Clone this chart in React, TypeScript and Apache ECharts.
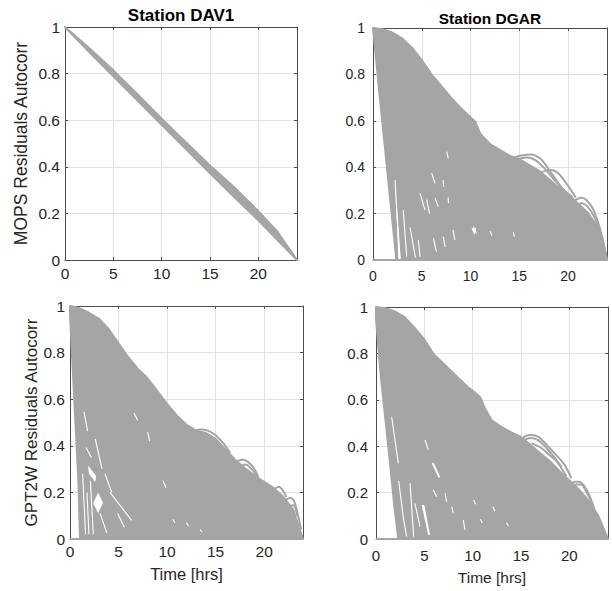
import React, { useEffect, useRef } from "react";
import * as echarts from "echarts";

type Pt = [number, number];

// ---------- axis ticks ----------
const xTicks = [0, 5, 10, 15, 20];
const xMax = 24;
const yTicks = [0, 0.2, 0.4, 0.6, 0.8, 1];

// ---------- Panel 1: MOPS, station DAV1 (band of near-linear curves) ----------
const mopsDav1Upper: Pt[] = [[0, 1], [2.5, 0.91], [5, 0.814], [7.5, 0.712], [10, 0.606], [12.5, 0.505], [15, 0.406], [17.5, 0.312], [20, 0.21], [22, 0.12], [24, 0]];
const mopsDav1Lower: Pt[] = [[0, 1], [2.5, 0.893], [5, 0.788], [7.5, 0.684], [10, 0.58], [12.5, 0.476], [15, 0.372], [17.5, 0.27], [20, 0.17], [22, 0.085], [24, 0]];

// ---------- Panel 2: MOPS, station DGAR ----------
const mopsDgarUpper: Pt[] = [[0, 1], [1, 0.995], [2, 0.98], [3, 0.955], [4, 0.915], [5, 0.862], [6, 0.8], [7, 0.75], [8, 0.7], [9, 0.655], [10, 0.615], [10.5, 0.595], [11, 0.545], [12, 0.5], [13, 0.475], [14, 0.45], [15, 0.435], [16, 0.41], [17, 0.385], [18, 0.35], [19, 0.315], [20, 0.283], [21, 0.245], [22, 0.205], [23, 0.145], [23.5, 0.1], [24, 0]];
const mopsDgarLower: Pt[] = [[0, 1], [0.7, 0.7], [1.5, 0.37], [2.2, 0.08], [2.4, 0]];
const mopsDgarCurves: Pt[][] = [
  [[14.4, 0.44], [15.2, 0.45], [16.2, 0.455], [17.2, 0.435], [18.2, 0.38], [19.4, 0.31], [20.5, 0.27]],
  [[14.8, 0.435], [15.7, 0.442], [16.6, 0.432], [17.6, 0.395], [18.6, 0.345], [19.6, 0.3]],
  [[16.9, 0.37], [17.6, 0.383], [18.3, 0.388], [19.1, 0.37], [20, 0.32], [20.8, 0.27]],
  [[20.4, 0.25], [20.9, 0.262], [21.4, 0.268], [21.9, 0.258], [22.5, 0.225], [23.1, 0.16], [23.6, 0.08], [24, 0]],
  [[20.8, 0.235], [21.4, 0.245], [22, 0.23], [22.7, 0.185], [23.3, 0.12]],
  [[0, 0], [24, 0]],
];
const mopsDgarGaps: Pt[][] = [
  [[2.26, 0.345], [2.55, 0.12], [2.75, 0.01]],
  [[3.8, 0.14], [4.35, 0.01]],
  [[3.1, 0.215], [3.46, 0.014]],
  [[4.82, 0.287], [5.33, 0.215]],
  [[4.65, 0.086], [4.82, 0.014]],
  [[6.02, 0.374], [6.36, 0.33]],
  [[7.56, 0.467], [7.72, 0.438]],
  [[6.36, 0.266], [6.7, 0.23]],
  [[7.2, 0.1], [7.4, 0.057]],
  [[8.2, 0.13], [8.4, 0.086]],
  [[10.3, 0.143], [10.6, 0.115]],
  [[12, 0.125], [12.2, 0.105]],
  [[14.4, 0.12], [14.5, 0.1]],
  [[5.5, 0.26], [5.8, 0.2]],
  [[7.2, 0.345], [7.25, 0.316]],
  [[7.7, 0.27], [7.75, 0.245]],
  [[6.2, 0.093], [6.5, 0.036]],
];
const mopsDgarHoles: Pt[][] = [
  [[2.35, 0.3], [2.6, 0.0], [2.85, 0.0]],
  [[10.1, 0.137], [10.6, 0.137], [10.4, 0.108]],
];

// ---------- Panel 3: GPT2W, station DAV1 ----------
const gptDav1Upper: Pt[] = [[0, 1], [1, 0.99], [2, 0.97], [3, 0.945], [4, 0.9], [5, 0.84], [6, 0.78], [7, 0.73], [8, 0.69], [9, 0.635], [10, 0.58], [11, 0.53], [12, 0.49], [13, 0.465], [14, 0.455], [15, 0.43], [16, 0.385], [17, 0.34], [18, 0.305], [19, 0.272], [20, 0.245], [21, 0.218], [22, 0.18], [23, 0.125], [24, 0]];
const gptDav1Lower: Pt[] = [[0, 0.96], [0.34, 0.68], [0.86, 0.25], [1.03, 0]];
const gptDav1Curves: Pt[][] = [
  [[12.8, 0.465], [13.5, 0.47], [14.2, 0.465], [15, 0.445], [15.8, 0.41], [16.5, 0.37]],
  [[16.8, 0.318], [17.3, 0.335], [17.85, 0.34], [18.5, 0.325], [19, 0.3], [19.4, 0.265]],
  [[17.5, 0.31], [18.1, 0.32], [18.7, 0.3], [19.2, 0.27]],
  [[20.8, 0.203], [21.2, 0.218], [21.5, 0.224], [21.9, 0.21], [22.3, 0.18]],
  [[22.1, 0.16], [22.4, 0.172], [22.7, 0.176], [23.1, 0.16], [23.5, 0.1], [23.8, 0.04]],
  [[22.5, 0.14], [23, 0.145], [23.4, 0.1]],
  [[0, 0], [24, 0]],
];
const gptDav1Gaps: Pt[][] = [
  [[1.44, 0.546], [1.82, 0.463]],
  [[1.65, 0.393], [2.2, 0.35]],
  [[2.6, 0.43], [3.3, 0.3]],
  [[3.6, 0.28], [4.3, 0.2]],
  [[3.1, 0.11], [3.8, 0.025]],
  [[4.9, 0.11], [5.6, 0.05]],
  [[6.6, 0.54], [6.97, 0.51]],
  [[9.57, 0.25], [9.9, 0.22]],
  [[2.1, 0.25], [2.4, 0.02]],
  [[10.6, 0.085], [10.8, 0.07]],
  [[12, 0.07], [12.2, 0.055]],
  [[13.4, 0.04], [13.6, 0.03]],
  [[8, 0.46], [8.2, 0.42]],
  [[4.12, 0.2], [6.35, 0.08]],
  [[1.3, 0.28], [1.6, 0.02]],
  [[1.75, 0.2], [1.95, 0.02]],
];
const gptDav1Holes: Pt[][] = [
  [[2.4, 0.155], [2.9, 0.2], [3.4, 0.155], [2.9, 0.11]],
  [[1.85, 0.315], [2.7, 0.27], [2.6, 0.245], [1.95, 0.28]],
];

// ---------- Panel 4: GPT2W, station DGAR ----------
const gptDgarUpper: Pt[] = [[0, 1], [1, 0.995], [2, 0.98], [3, 0.955], [4, 0.91], [5, 0.86], [6, 0.795], [7, 0.755], [8, 0.715], [9, 0.675], [9.5, 0.655], [10, 0.64], [10.8, 0.61], [11.3, 0.56], [12, 0.51], [13, 0.482], [14, 0.46], [15, 0.44], [16, 0.405], [17, 0.37], [18, 0.335], [19, 0.292], [20, 0.252], [21, 0.213], [22, 0.165], [23, 0.1], [24, 0]];
const gptDgarLower: Pt[] = [[0, 0.95], [0.5, 0.7], [1.38, 0.355], [1.9, 0.139], [2.31, 0]];
const gptDgarCurves: Pt[][] = [
  [[15.07, 0.43], [15.5, 0.444], [16, 0.448], [16.8, 0.44], [18, 0.39], [19.4, 0.326], [20.2, 0.262]],
  [[15.3, 0.425], [16, 0.435], [16.8, 0.425], [18, 0.375], [19.2, 0.31]],
  [[16.1, 0.412], [17, 0.395], [18, 0.36], [18.7, 0.335], [19.7, 0.27]],
  [[20.2, 0.24], [20.6, 0.247], [21, 0.247], [21.6, 0.225], [22.2, 0.175], [22.8, 0.1], [23.4, 0.04]],
  [[20.6, 0.235], [21.2, 0.235], [21.8, 0.2], [22.5, 0.14]],
  [[0, 0], [24, 0]],
];
const gptDgarGaps: Pt[][] = [
  [[1.62, 0.527], [2.31, 0.326]],
  [[2.35, 0.25], [2.8, 0.1], [3.17, 0.01]],
  [[3.52, 0.24], [3.9, 0.01]],
  [[4.03, 0.154], [4.55, 0.053]],
  [[5.07, 0.427], [5.41, 0.384]],
  [[5.93, 0.211], [6.28, 0.182]],
  [[7.14, 0.197], [7.31, 0.161]],
  [[7.83, 0.139], [8, 0.111]],
  [[9.03, 0.082], [9.2, 0.039]],
  [[10.1, 0.168], [10.3, 0.15]],
  [[12.1, 0.139], [12.3, 0.12]],
  [[13.5, 0.07], [13.7, 0.055]],
  [[10.8, 0.085], [11, 0.07]],
];
const gptDgarHoles: Pt[][] = [
  [[4.72, 0.147], [5.0, 0.147], [5.59, 0.017], [5.4, 0.017]],
  [[5.76, 0.326], [5.95, 0.33], [6.62, 0.269], [6.5, 0.262]],
];

// ---------- titles / labels ----------
const titles = ["Station DAV1", "Station DGAR"];
const yNames = ["MOPS Residuals Autocorr", "GPT2W Residuals Autocorr"];
const xName = "Time [hrs]";

// ---------- styles & layout ----------
const GRAY = "#A5A5A5";
const AXIS = "#4d4d4d";
const TEXT = "#262626";
const GRIDC = "#E2E2E2";
const FONT = "'Liberation Sans', Arial, Helvetica, sans-serif";

const layout = [
  { left: 65, top: 27, width: 232, height: 233, tick: 15.5, xMargin: 5, yMargin: 5, yName: yNames[0], yNameGap: 35, yNameSize: 17.5, xName: "", xNameGap: 0, xNameSize: 0 },
  { left: 373, top: 28, width: 234, height: 232, tick: 14, xMargin: 9, yMargin: 8, yName: "", yNameGap: 0, yNameSize: 0, xName: "", xNameGap: 0, xNameSize: 0 },
  { left: 70, top: 306, width: 233, height: 233, tick: 15.5, xMargin: 4, yMargin: 5, yName: yNames[1], yNameGap: 28, yNameSize: 17, xName: xName, xNameGap: 26, xNameSize: 16.5 },
  { left: 376, top: 307, width: 232, height: 232, tick: 15, xMargin: 9, yMargin: 8, yName: "", yNameGap: 0, yNameSize: 0, xName: xName, xNameGap: 30, xNameSize: 15.5 },
];

const panelData = [
  { upper: mopsDav1Upper, lower: mopsDav1Lower, curves: [] as Pt[][], gaps: [] as Pt[][], holes: [] as Pt[][] },
  { upper: mopsDgarUpper, lower: mopsDgarLower, curves: mopsDgarCurves, gaps: mopsDgarGaps, holes: mopsDgarHoles },
  { upper: gptDav1Upper, lower: gptDav1Lower, curves: gptDav1Curves, gaps: gptDav1Gaps, holes: gptDav1Holes },
  { upper: gptDgarUpper, lower: gptDgarLower, curves: gptDgarCurves, gaps: gptDgarGaps, holes: gptDgarHoles },
];

function polygonSeries(i: number, pts: Pt[], fill: string, stroke: number, z: number) {
  return {
    type: "custom", xAxisIndex: i, yAxisIndex: i, silent: true, z,
    data: [[0, 0]],
    renderItem: (_params: any, api: any) => ({
      type: "polygon",
      shape: { points: pts.map((p) => api.coord(p)) },
      style: { fill, stroke: stroke > 0 ? fill : "none", lineWidth: stroke, lineJoin: "round" },
    }),
  };
}

function buildOption() {
  const grid: any[] = [];
  const xAxis: any[] = [];
  const yAxis: any[] = [];
  const series: any[] = [];

  layout.forEach((L, i) => {
    grid.push({ left: L.left, top: L.top, width: L.width, height: L.height, show: false });
    xAxis.push({
      gridIndex: i, type: "value", min: 0, max: xMax, interval: 5,
      axisLine: { show: true, onZero: false, lineStyle: { color: AXIS, width: 1 } },
      axisTick: { show: true, inside: true, length: 3, lineStyle: { color: AXIS } },
      axisLabel: {
        margin: L.xMargin, fontSize: L.tick, color: TEXT, fontFamily: FONT,
        formatter: (v: number) => (xTicks.includes(v) ? String(v) : ""),
      },
      splitLine: { show: true, lineStyle: { color: GRIDC, width: 1 } },
      name: L.xName, nameLocation: "middle", nameGap: L.xNameGap,
      nameTextStyle: { fontSize: L.xNameSize || 12, color: TEXT, fontFamily: FONT },
    });
    yAxis.push({
      gridIndex: i, type: "value", min: 0, max: 1, interval: 0.2,
      axisLine: { show: true, onZero: false, lineStyle: { color: AXIS, width: 1 } },
      axisTick: { show: true, inside: true, length: 3, lineStyle: { color: AXIS } },
      axisLabel: {
        margin: L.yMargin, fontSize: L.tick, color: TEXT, fontFamily: FONT,
        formatter: (v: number) => (yTicks.some((t) => Math.abs(t - v) < 1e-9) ? String(+v.toFixed(1)) : ""),
      },
      splitLine: { show: true, lineStyle: { color: GRIDC, width: 1 } },
      name: L.yName, nameLocation: "middle", nameGap: L.yNameGap,
      nameTextStyle: { fontSize: L.yNameSize || 12, color: TEXT, fontFamily: FONT },
    });
  });
  layout.forEach((_L, i) => {
    xAxis.push({
      gridIndex: i, type: "value", position: "top", min: 0, max: xMax, interval: 5,
      axisLine: { show: true, onZero: false, lineStyle: { color: AXIS, width: 1 } },
      axisTick: { show: true, inside: true, length: 3, lineStyle: { color: AXIS } },
      axisLabel: { show: false }, splitLine: { show: false },
    });
    yAxis.push({
      gridIndex: i, type: "value", position: "right", min: 0, max: 1, interval: 0.2,
      axisLine: { show: true, onZero: false, lineStyle: { color: AXIS, width: 1 } },
      axisTick: { show: true, inside: true, length: 3, lineStyle: { color: AXIS } },
      axisLabel: { show: false }, splitLine: { show: false },
    });
  });

  panelData.forEach((P, i) => {
    series.push(polygonSeries(i, [...P.upper, ...P.lower.slice().reverse()], GRAY, 2, 2));
    P.holes.forEach((h) => series.push(polygonSeries(i, h, "#ffffff", 0, 3)));
    P.gaps.forEach((g) => {
      series.push({
        type: "line", xAxisIndex: i, yAxisIndex: i, data: g, showSymbol: false, silent: true, z: 3,
        lineStyle: { color: "#ffffff", width: 1.1 },
      });
    });
    P.curves.forEach((c) => {
      series.push({
        type: "line", xAxisIndex: i, yAxisIndex: i, data: c, showSymbol: false, silent: true, z: 4,
        smooth: 0.3, lineStyle: { color: GRAY, width: 2 },
      });
    });
  });

  const graphic = [
    {
      type: "text", x: layout[0].left + layout[0].width / 2, y: 15,
      style: { text: titles[0], font: `bold 17px ${FONT}`, fill: "#000", textAlign: "center", textVerticalAlign: "middle" },
    },
    {
      type: "text", x: layout[1].left + layout[1].width / 2, y: 18,
      style: { text: titles[1], font: `bold 15.5px ${FONT}`, fill: "#000", textAlign: "center", textVerticalAlign: "middle" },
    },
  ];

  return { animation: false, backgroundColor: "#ffffff", grid, xAxis, yAxis, series, graphic };
}

export default function App() {
  const ref = useRef<HTMLDivElement>(null);
  useEffect(() => {
    if (!ref.current) return;
    const chart = echarts.init(ref.current, undefined, { renderer: "svg" });
    chart.setOption(buildOption() as any);
    return () => chart.dispose();
  }, []);
  return <div ref={ref} style={{ position: "fixed", left: 0, top: 0, width: 612, height: 591 }} />;
}
